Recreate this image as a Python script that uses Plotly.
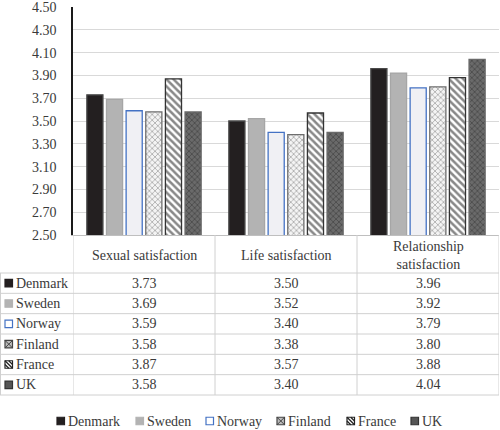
import plotly.graph_objects as go

categories = ["Sexual satisfaction", "Life satisfaction", "Relationship satisfaction"]
category_labels = ["Sexual satisfaction", "Life satisfaction", "Relationship<br>satisfaction"]
countries = ["Denmark", "Sweden", "Norway", "Finland", "France", "UK"]
denmark = [3.73, 3.50, 3.96]
sweden = [3.69, 3.52, 3.92]
norway = [3.59, 3.40, 3.79]
finland = [3.58, 3.38, 3.80]
france = [3.87, 3.57, 3.88]
uk = [3.58, 3.40, 4.04]
series = [denmark, sweden, norway, finland, france, uk]
y_ticks = [2.5, 2.7, 2.9, 3.1, 3.3, 3.5, 3.7, 3.9, 4.1, 4.3, 4.5]

W, H = 500, 430
def px(x):
    return x / W
def py(y):
    return 1 - y / H

FONT = "Liberation Serif"
TXT = "#3a3a3a"
GRID = "#d9d9d9"

styles = [
    dict(color="#231f20", line=dict(color="#4a4a4a", width=1.3)),
    dict(color="#b3b3b3", line=dict(color="#a6a6a6", width=1.3)),
    dict(color="#f0f0f4", line=dict(color="#4472c4", width=1.3)),
    dict(color="white", line=dict(color="#6e6e6e", width=1.3),
         pattern=dict(shape="x", fgcolor="#555555", bgcolor="#f4f4f4", size=4, solidity=0.35)),
    dict(color="white", line=dict(color="#333333", width=1.3),
         pattern=dict(shape="\\", fgcolor="#111111", bgcolor="white", size=5, solidity=0.5)),
    dict(color="#555555", line=dict(color="#6a6a6a", width=1.3),
         pattern=dict(shape="x", fgcolor="#2e2e2e", bgcolor="#6a6a6a", size=4, solidity=0.4)),
]

fig = go.Figure()
for name, vals, st in zip(countries, series, styles):
    fig.add_trace(go.Bar(x=categories, y=vals, name=name, marker=st,
                         showlegend=False, hoverinfo="skip"))

x0, x1 = 73, 499
y_top, y_bot = 7, 235
fig.update_layout(
    width=W, height=H,
    margin=dict(l=0, r=0, t=0, b=0, autoexpand=False),
    paper_bgcolor="white", plot_bgcolor="white",
    barmode="group", bargap=0.17, bargroupgap=0.18,
    font=dict(family=FONT, size=14, color=TXT),
    xaxis=dict(domain=[px(x0), px(x1)], showticklabels=False, showgrid=False,
               zeroline=False, showline=True, linecolor="#bfbfbf", linewidth=1,
               range=[-0.5, 2.5], automargin=False),
    yaxis=dict(domain=[py(y_bot), py(y_top)], range=[2.5, 4.5], tickvals=y_ticks,
               tickformat=".2f", showgrid=True, gridcolor=GRID, gridwidth=1.2,
               showline=True, linecolor="#1a1a1a", linewidth=1.5, zeroline=False,
               automargin=False, ticklabeloverflow="allow",
               ticklabelstandoff=12, tickfont=dict(family=FONT, size=14, color=TXT)),
)

shapes = []
annotations = []
LINE = dict(color="#d0d0d0", width=1)

head_bot = 273
row_h = (395 - 273) / 6
table_bot = 395
for b in [-0.5, 0.5, 1.5, 2.5]:
    shapes.append(dict(type="line", xref="x", yref="paper", x0=b, x1=b,
                       y0=py(table_bot), y1=py(y_bot), line=LINE))
shapes.append(dict(type="line", xref="paper", yref="paper", x0=px(0.5), x1=px(0.5),
                   y0=py(table_bot), y1=py(head_bot), line=LINE))
for i in range(7):
    yy = head_bot + i * row_h
    shapes.append(dict(type="line", xref="paper", yref="paper", x0=0, x1=px(x1),
                       y0=py(yy), y1=py(yy), line=LINE))

for c, lab in zip(categories, category_labels):
    annotations.append(dict(xref="x", yref="paper", x=c, y=py(255), text=lab,
                            showarrow=False, xanchor="center", yanchor="middle",
                            font=dict(family=FONT, size=14, color=TXT)))

for r, (name, vals) in enumerate(zip(countries, series)):
    yc = head_bot + (r + 0.5) * row_h
    for c, v in zip(categories, vals):
        annotations.append(dict(xref="x", yref="paper", x=c, y=py(yc), text=f"{v:.2f}",
                                showarrow=False, xanchor="center", yanchor="middle",
                                font=dict(family=FONT, size=14, color=TXT)))
    annotations.append(dict(xref="paper", yref="paper", x=px(14), y=py(yc), text=name,
                            showarrow=False, xanchor="left", yanchor="middle",
                            font=dict(family=FONT, size=14, color=TXT)))

def swatch(i, xl, yc, s=7.5):
    xr = xl + s
    yt, yb = yc - s / 2, yc + s / 2
    fills = ["#231f20", "#b3b3b3", "white", "#bdbdbd", "white", "#555555"]
    lines = ["#231f20", "#b3b3b3", "#4472c4", "#444444", "#222222", "#333333"]
    shapes.append(dict(type="rect", xref="paper", yref="paper",
                       x0=px(xl), x1=px(xr), y0=py(yb), y1=py(yt),
                       fillcolor=fills[i], line=dict(color=lines[i], width=1.2)))
    if i == 4:
        for k in [-0.5, 0, 0.5]:
            d = k * s
            ax, ay = xl + max(0, d), yt + max(0, -d)
            bx, by = xr - max(0, -d), yb - max(0, d)
            shapes.append(dict(type="line", xref="paper", yref="paper",
                               x0=px(ax), y0=py(ay), x1=px(bx), y1=py(by),
                               line=dict(color="#222222", width=1.3)))
    if i == 3:
        shapes.append(dict(type="line", xref="paper", yref="paper",
                           x0=px(xl), y0=py(yt), x1=px(xr), y1=py(yb),
                           line=dict(color="#444444", width=1)))
        shapes.append(dict(type="line", xref="paper", yref="paper",
                           x0=px(xl), y0=py(yb), x1=px(xr), y1=py(yt),
                           line=dict(color="#444444", width=1)))

for r in range(6):
    yc = head_bot + (r + 0.5) * row_h
    swatch(r, 5, yc)

leg_sq = [57, 136, 206, 277, 347, 411]
leg_y = 421
for i, (name, xs) in enumerate(zip(countries, leg_sq)):
    swatch(i, xs, leg_y)
    annotations.append(dict(xref="paper", yref="paper", x=px(xs + 9), y=py(leg_y),
                            text=name, showarrow=False, xanchor="left", yanchor="middle",
                            font=dict(family=FONT, size=14, color=TXT)))

fig.update_layout(shapes=shapes, annotations=annotations)
fig.write_html("out.html", config={"displayModeBar": False},
               post_script="document.body.style.margin='0';document.body.style.overflow='hidden';")
